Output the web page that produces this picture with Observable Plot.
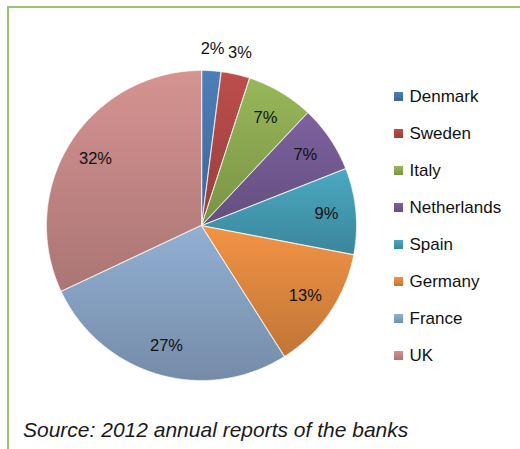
<!DOCTYPE html>
<html><head><meta charset="utf-8">
<script src="https://cdn.jsdelivr.net/npm/d3@7"></script>
<script src="https://cdn.jsdelivr.net/npm/@observablehq/plot@0.6"></script>
<style>
body{margin:0;background:#fff;}
#wrap{position:relative;width:520px;height:449px;overflow:hidden;font-family:"Liberation Sans",Arial,sans-serif;}
#frame{position:absolute;left:7px;top:6px;right:0;bottom:0;border-left:2px solid #9bc46a;border-top:2px solid #9bc46a;}
#pie,#legend{position:absolute;left:0;top:0;}
#caption{position:absolute;left:23px;top:418px;font-style:italic;font-size:21px;color:#1a1a1a;white-space:nowrap;}
</style></head><body>
<div id="wrap"><div id="frame"></div><div id="pie"></div><div id="legend"></div><div id="caption">Source: 2012 annual reports of the banks</div></div>
<svg width="0" height="0" style="position:absolute"><defs><linearGradient id="shade" x1="0" y1="0" x2="0" y2="1"><stop offset="0" stop-color="#000" stop-opacity="0.02"/><stop offset="1" stop-color="#000" stop-opacity="0.22"/></linearGradient></defs></svg>
<script>
const countries = ["Denmark","Sweden","Italy","Netherlands","Spain","Germany","France","UK"];
const shares = [2,3,7,7,9,13,27,32];
const palette = ["#4f81bd","#c0504d","#9bbb59","#8064a2","#4bacc6","#f79646","#95b3d7","#d99694"];

const arcs = d3.pie().sort(null).value(d => d)(shares);
const outline = [];
arcs.forEach((a, i) => {
  outline.push({country: countries[i], px: 0, py: 0});
  const n = Math.max(2, Math.ceil((a.endAngle - a.startAngle) / 0.01));
  for (let k = 0; k <= n; k++) {
    const t = a.startAngle + (a.endAngle - a.startAngle) * k / n;
    outline.push({country: countries[i], px: Math.sin(t), py: Math.cos(t)});
  }
});
const labels = arcs.map((a, i) => {
  const m = (a.startAngle + a.endAngle) / 2;
  const r = shares[i] < 5 ? 1.14 : 0.81;
  return {country: countries[i], share: shares[i], lx: r * Math.sin(m), ly: r * Math.cos(m)};
});

const font = {fontFamily: "'Liberation Sans', Arial, sans-serif", fontSize: "16px", overflow: "visible", background: "transparent"};
const colorScale = {domain: countries, range: palette};

const pie = Plot.plot({
  width: 520, height: 410,
  x: {domain: [-1, 1], range: [46, 356], axis: null},
  y: {domain: [-1, 1], range: [380, 70], axis: null},
  color: colorScale,
  style: font,
  marks: [
    Plot.line(outline, {x: "px", y: "py", z: "country", fill: "country", stroke: "none", curve: "linear-closed"}),
    Plot.line(outline, {x: "px", y: "py", z: "country", fill: "url(#shade)", stroke: "none", curve: "linear-closed"}),
    Plot.line(outline, {x: "px", y: "py", z: "country", fill: "none", stroke: "white", strokeWidth: 0.8, strokeOpacity: 0.8, curve: "linear-closed"}),
    Plot.text(labels, {x: "lx", y: "ly", text: d => d.share + "%", fontSize: 16.5, fill: "#111"})
  ]
});
document.getElementById("pie").appendChild(pie);

const legend = Plot.plot({
  width: 520, height: 410,
  marginLeft: 398, marginRight: 0, marginTop: 0, marginBottom: 0,
  y: {type: "point", domain: countries, range: [95, 355], padding: 0, axis: null},
  color: colorScale,
  style: font,
  marks: [
    Plot.dot(countries, {y: d => d, fill: d => d, symbol: "square", r: 5.1, frameAnchor: "left"}),
    Plot.dot(countries, {y: d => d, fill: "url(#shade)", symbol: "square", r: 5.1, frameAnchor: "left"}),
    Plot.text(countries, {y: d => d, text: d => d, frameAnchor: "left", dx: 11, textAnchor: "start", fontSize: 17, fill: "#111"})
  ]
});
document.getElementById("legend").appendChild(legend);
</script>
</body></html>
